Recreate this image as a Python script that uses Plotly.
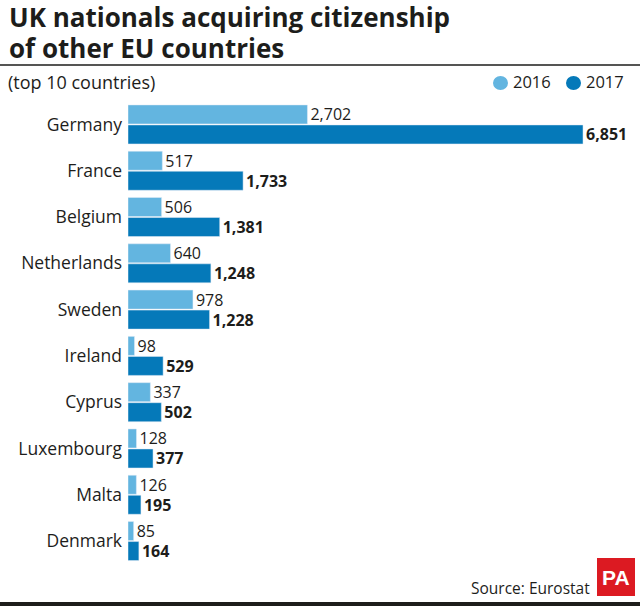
import plotly.graph_objects as go

countries = ["Germany","France","Belgium","Netherlands","Sweden","Ireland","Cyprus","Luxembourg","Malta","Denmark"]
v2016 = [2702,517,506,640,978,98,337,128,126,85]
v2017 = [6851,1733,1381,1248,1228,529,502,377,195,164]
FONT = "Open Sans"
INK = "#1d1d1b"
LIGHT = "#63b5e0"
DARK = "#0579b9"
W, H = 640, 606
def px(x): return x / W
def py(y): return 1 - y / H

fig = go.Figure()
fig.add_bar(y=countries, x=v2016, name="2016", orientation="h", marker_color=LIGHT,
            text=[f"{v:,}" for v in v2016], textposition="outside", cliponaxis=False, constraintext="none",
            textfont=dict(family=FONT, size=16, color=INK))
fig.add_bar(y=countries, x=v2017, name="2017", orientation="h", marker_color=DARK,
            text=[f"<b>{v:,}</b>" for v in v2017], textposition="outside", cliponaxis=False, constraintext="none",
            textfont=dict(family=FONT, size=16, color=INK))
fig.update_layout(
    width=W, height=H, margin=dict(l=0, r=0, t=0, b=0), paper_bgcolor="white", plot_bgcolor="white",
    barmode="group", bargap=0.135, bargroupgap=0.05, showlegend=False,
    font=dict(family=FONT, color=INK),
    xaxis=dict(domain=[px(128), 1], range=[0, 7709], visible=False),
    yaxis=dict(domain=[py(564.2), py(101.3)], autorange="reversed", ticks="", showline=False,
               tickfont=dict(family=FONT, size=17.5, color=INK), ticklabelstandoff=5),
    shapes=[
        dict(type="line", xref="paper", yref="paper", x0=0, x1=1, y0=py(65), y1=py(65), line=dict(color=INK, width=1.5)),
        dict(type="rect", xref="paper", yref="paper", x0=0, x1=1, y0=py(602), y1=py(606), fillcolor=INK, line_width=0),
        dict(type="rect", xref="paper", yref="paper", x0=px(597), x1=px(635), y0=py(558), y1=py(596), fillcolor="#dc1a22", line_width=0),
        dict(type="circle", xref="paper", yref="paper", x0=px(493), x1=px(508), y0=py(76), y1=py(90), fillcolor=LIGHT, line_width=0),
        dict(type="circle", xref="paper", yref="paper", x0=px(566), x1=px(581), y0=py(76), y1=py(90), fillcolor=DARK, line_width=0),
    ],
    annotations=[
        dict(text="<b>UK nationals acquiring citizenship</b>", x=px(7), y=py(17), xref="paper", yref="paper", xanchor="left", yanchor="middle", align="left", showarrow=False, font=dict(family=FONT, size=26, color=INK)),
        dict(text="<b>of other EU countries</b>", x=px(7), y=py(48), xref="paper", yref="paper", xanchor="left", yanchor="middle", align="left", showarrow=False, font=dict(family=FONT, size=26, color=INK)),
        dict(text="(top 10 countries)", x=px(6), y=py(82), xref="paper", yref="paper", xanchor="left", yanchor="middle", showarrow=False, font=dict(family=FONT, size=18, color=INK)),
        dict(text="2016", x=px(511), y=py(82), xref="paper", yref="paper", xanchor="left", yanchor="middle", showarrow=False, font=dict(family=FONT, size=16.5, color=INK)),
        dict(text="2017", x=px(584), y=py(82), xref="paper", yref="paper", xanchor="left", yanchor="middle", showarrow=False, font=dict(family=FONT, size=16.5, color=INK)),
        dict(text="Source: Eurostat", x=px(592), y=py(588), xref="paper", yref="paper", xanchor="right", yanchor="middle", showarrow=False, font=dict(family=FONT, size=15.5, color=INK)),
        dict(text="<b>PA</b>", x=px(616), y=py(577), xref="paper", yref="paper", xanchor="center", yanchor="middle", showarrow=False, font=dict(family="Liberation Sans", size=21, color="white")),
    ],
)
fig.write_html("out.html", post_script="document.body.style.margin='0';", config=dict(displayModeBar=False))
